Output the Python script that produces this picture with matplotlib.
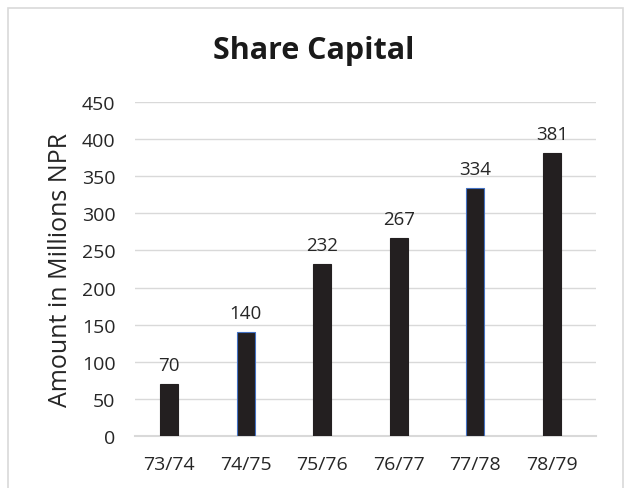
import matplotlib
matplotlib.use("Agg")
import matplotlib.pyplot as plt
from matplotlib.patches import Rectangle

categories = ["73/74", "74/75", "75/76", "76/77", "77/78", "78/79"]
values = [70, 140, 232, 267, 334, 381]
yticks = [0, 50, 100, 150, 200, 250, 300, 350, 400, 450]
edge_colors = ["#231f20", "#4472c4", "#231f20", "#231f20", "#4472c4", "#231f20"]

plt.rcParams['font.family'] = ['Open Sans', 'DejaVu Sans']

fig = plt.figure(figsize=(6.32, 4.89), dpi=100)
ax = fig.add_axes([135/632, 1 - 437/489, (596-135)/632, (437-103)/489])

x = range(len(categories))
bars = ax.bar(x, values, width=0.235, color="#231f20", edgecolor=edge_colors, linewidth=0.8, zorder=3)

for i, v in enumerate(values):
    ax.annotate(str(v), (i, v), xytext=(0, 7), textcoords="offset points",
                ha="center", va="bottom", fontsize=13.5, color="#262626")

ax.set_xlim(-0.444, 5.574)
ax.set_ylim(0, 450)
ax.set_yticks(yticks)
ax.set_xticks(list(x))
ax.set_xticklabels(categories)
ax.tick_params(axis="both", length=0, labelsize=14, colors="#262626")
ax.tick_params(axis="y", pad=14)
ax.tick_params(axis="x", pad=14)
ax.yaxis.grid(True, color="#d9d9d9", linewidth=1, zorder=0)
ax.set_axisbelow(True)
for s in ["top", "right", "left"]:
    ax.spines[s].set_visible(False)
ax.spines["bottom"].set_color("#d9d9d9")
ax.spines["bottom"].set_linewidth(1.5)

ax.set_ylabel("Amount in Millions NPR", fontsize=18, color="#262626", labelpad=6)
fig.text(314/632, 1 - 51/489, "Share Capital", ha="center", va="center",
         fontsize=22, fontweight="bold", color="#1a1a1a")

fig.patches.append(Rectangle((8/632, -0.02), (623-8)/632, 1 - 9/489 + 0.02,
                             transform=fig.transFigure, fill=False,
                             edgecolor="#d9d9d9", linewidth=1.2))

fig.savefig("out.png", dpi=100, facecolor="white")
